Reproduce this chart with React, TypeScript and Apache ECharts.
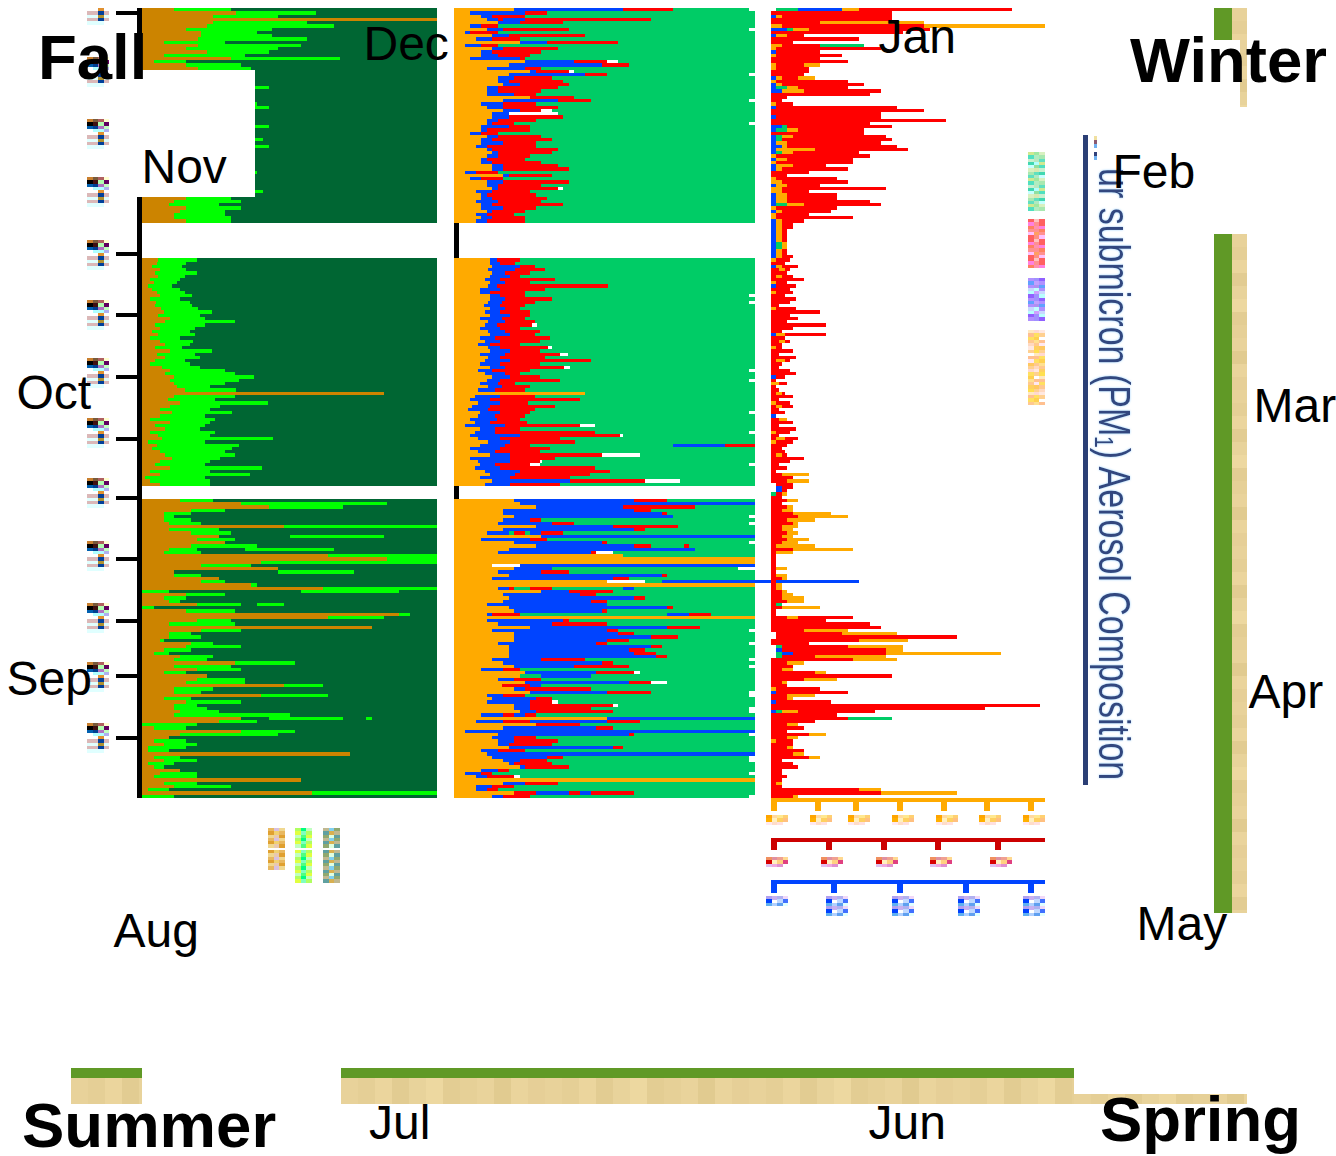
import React, { useEffect, useRef } from "react";
import * as echarts from "echarts";

const BROWN = "#cc8400", LIME = "#00ff00", DARK = "#006633";
const ORANGE = "#ffaa00", BLUE = "#0044ff", RED = "#ff0000", GREEN = "#00cc66", WHITE = "#ffffff";

const leftSec1 = [[11,30],[32,59],[24,46],[100],[24,56],[22,65],[15,44],[20,39],[20,44],[19,56],[7.5,28],[19,54],[15,46],[22,43],[7.5,35],[30,67],[4,15],[15,33.5],[19,37],
[15,35],[16,36],[14,33],[15,37],[16,30],[15,43],[17,34],[12,36],[15,31],[16,33],[17,39],[14,43],[15,30],[13,35],[15,37],[16,28],[14,33],[15,43],[13,31],[15,34],[16,36],[14,41],[15,30],[16,43],[14,33],[15,36],[13,29],[16,34],[15,31],[14,35],[16,37],[15,39],[13,30],[16,34],[14,36],[15,31],[15,29],[13,41],[15,33],
[15,30],[11,33.5],[9,26],[15,33.5],[13,28],[11,28],[11,30],[15,30]];
const leftSec2 = [[5.4,18.6],[5,15],[3.4,13.6],[6,15],[4.4,18.6],[5.4,14.6],[2.7,13],[4,12],[2,10],[3.4,13],[5,14.6],[6,17],[2.7,13],[4.7,16.3],[4.4,17],[6.4,19],[7.5,23.7],[5.4,19.7],[9.5,21.4],[7.8,31.5],[4.4,21.4],[6,18],[3.4,16.3],[5.4,18],[2.7,13],[6,17.3],[7.8,16.3],[4.4,13.6],[9.5,23.7],[5,18],[7.8,19.7],[4.4,14.6],[2.7,16.3],[6.8,19.7],[9.5,28],[7.8,31.5],[11,38],[9.5,33],[11,28],[12,23],[14.6,32],[82],[11,31.5],[8.8,24.7],[13,42.7],[9.5,26.4],[6,23],[10,30.5],[6,21.4],[2.7,24.7],[9.5,23],[4.4,21.4],[7.8,19.7],[2.7,24.7],[5.4,23],[6.8,44.4],[2,21.4],[5,33],[3.4,30.5],[6,28],[7.8,31.5],[10,26.4],[6,23],[4.4,21.4],[9.5,40.7],[2.7,23],[6,36.6],[1,21.4],[2.7,23],[6,23]];
const leftSec3 = [[13,24],[33.5,83],[43,68],[16.5,28],[7.5,16.5],[7.5,11],[7.5,16.5],[9,20],[48,100],[9,26],[16.5,30],[26,26,50,82],[18.5,31.5],[28],[16.5,39],[9,18.5,35,65],[7.5,20],[63,100],[83,100],[40.5,100],[20,37],[46],[11,11,46,72],[11,20],[26],[20,28],[37,39],[61.5,100],[0,9,54,87],[15,28],[7.5,15],[9,13],[18.5,33.5,39,48],[0,4],[15,31.5],[87,91],[63,82],[18.5,30],[9,31.5],[78],[20,33.5],[9,16.5],[9,20],[6,7.5],[16.5,24],[15,33.5],[7.5,16.5],[4,9],[13,24],[11,22],[31.5,52],[11,30],[18.5,33.5],[7.5,15],[22],[18.5,35],[15,35],[48,61.5],[11,24],[11,20],[40.5,63],[7.5,16.5],[15,33.5],[11,18.5],[11,22],[13,26],[11,50],[33.5,33.5,43,68,76,78],[26,39],[0,18.5],[4,15],[33.5,52],[13,46],[9],[4,15],[7.5,18.5],[2,15],[2,9],[70.5],[4,13],[7.5,18.5],[2,11],[4,7.5],[13],[6,18.5],[4,18.5],[54],[7.5,18.5],[11,30],[2,9],[57.5,100],[0,11]];

const midSec1 = [[20,56.1,72.8],[5.3,23.6,30.9],[9,12.6,23.6],[11,14.6,16.3,16.3,16.3,23.6,65.5],[14.6,22,36.2],[5.3,9,14.6],[11,16.3,38.2],[3.7,5.3,14.6],[12.6,18.3,43.5],[7.3,12.6,22],[22,30.9,54.5],[3.7,9,14.6],[12.6,16.3,34.6],[9,12.6,28.9],[9,14.6,25.2],[5.3,22,23.6],[23.6,39.9,50.8,54.5],[18.3,49.2,58.1],[11,23.6,28.9],[25.2,27.2,38.2,39.9],[18.3,43.5,50.8],[14.6,20,32.6],[14.6,18.3,36.2],[16.3,22,38.2],[11,14.6,34.6],[11,14.6,28.9],[11,20,27.2],[25.2,25.2,39.9],[16.3,34.6,45.5],[9,16.3,27.2],[11,16.3,34.6],[16.3,22,28.9,32.6],[12.6,18.3,18.3,34.6],[12.6,18.3,36.2],[11,14.6,27.2],[11,12.6,20],[9,18.3,25.2],[9,11,25.2],[5.3,9,14.6],[11,14.6,28.9],[9,12.6,32.6],[9,16.3,27.2],[7.3,11,27.2],[11,12.6,34.6],[12.6,14.6,32.6],[11,14.6,25.2],[9,11,23.6],[9,12.6,28.9],[12.6,16.3,34.6],[12.6,16.3,38.2],[3.7,7.3,14.6],[16.3,18.3,32.6],[5.3,9,16.3],[11,16.3,38.2],[11,14.6,28.9],[12.6,14.6,34.6,36.2],[7.3,12.6,25.2],[9,11,27.2],[9,12.6,30.9],[7.3,14.6,28.9],[9,12.6,36.2],[9,16.3,27.2],[11,12.6,23.6],[7.3,11,20],[9,12.6,23.6],[7.3,11,23.6]];
const midSec2 = [[12,14.3,22],[12,15.3,20.3],[12.6,22,27],[11.3,20.3,30.2],[12.6,17,25.2],[12,18.6,22],[10.3,15.3,33.6],[12,17,25.2],[11.3,14.3,51.2],[8.6,15.3,30.2],[8.6,12,23.6],[12,15.3,23.6],[12,17,32.6],[11.3,16,27],[10,15.3,23.6],[12,17,22],[10.3,15.3,25.2],[12,18.6,25.2],[8.6,16,23.6],[11.3,17,27],[10.3,14.3,26,27.6],[8.6,15.3,22],[11.3,17,28.6],[12,18.6,27],[8.6,13.6,32],[10.3,15.3,28.6],[8,12,22],[11.3,15.3,31.2,32.6],[12,18.6,28.6],[8.6,17,35.2,37.9],[11.3,15.3,30.2],[10.3,18.6,45.5],[8.6,15.3,28.6],[12,17,36.5,38.5],[8,12.6,25.2],[10.3,17,22],[12.6,18.6,28.6],[11,15.3,35.2],[8.6,14.6,20.3],[11.3,16,25.2],[8,13.6,23.6],[43.5],[7,15.3,27],[5.3,12,41.9],[8,15.3,24.6],[6,12,33.6],[4.7,11.3,27],[8.6,15.3,25.2],[8,13.6,23.6],[5.3,14.3,22],[7,12,24.3],[3.7,17,41.9,46.8],[8.6,13.6,22],[7,13.6,46.8],[5.3,22,55,56],[8,15.3,35.2],[11.3,18.6,40.2],[8.6,17,25.2,25.2,72.8,90,100],[5.3,15.3,32],[8,13.6,28.6],[12,18.6,49.2,61.8],[5.3,18.6,33.6],[8,18.6,28.6,29.2],[8.6,13.6,25.2,28.6],[7,15.3,46.8],[10.3,22,51.8],[12,20.3,45.2],[8.6,18.6,38.5],[12.6,38.5,63.5,75],[10.3,18.6,35.2]];
const midSec3 = [[20,59.8,70.8],[22,100],[27.2,56.1,80],[16.3,59.8,65.5],[16.3,69.1,70.8],[20,72.8],[16.3,25.2,28.9],[14.6,32.6,39.9],[27.2,52.8,74.4],[16.3,59.8,63.5],[11,18.3,18.3,18.3,20,20,23.6,23.6,25.2,28.9,36.2],[28.9,100],[9,25.2,30.9],[20,49.2,50.8],[27.2,59.8,65.5,65.5,76.4,76.4,78],[18.3,80],[14.6,45.5,47.2,52.8],[56.1],[100],[100],[12.6,12.6,12.6,22,22,100],[20,32.6],[14.6,28.9,38.2],[18.3,69.1,70.8],[12.6,52.8,58.1],[50.8,50.8,50.8,63.5,69.1,134.5],[100],[14.6,18.3,20,20,25.2,25.2,32.6,32.6,56.1,59.8],[28.9,38.2,52.8],[16.3,41.9,47.2],[18.3,59.8,63.5],[16.3,45.5,50.8],[11,50.8],[18.3,70.8,72.8],[20,49.2,50.8],[11,12.6,22,22,70.8,78,85.4],[100],[11,36.2,38.2],[14.6,32.6,50.8],[25.2,70.8,81.7],[12.6,50.8,54.5],[20,54.5,59.8],[20,65.5,74.4],[20,50.8,58.1],[14.6,47.2,50.8],[18.3,65.5,69.1],[18.3,58.1,63.5],[18.3,59.8,67.1],[18.3,67.1,70.8],[12.6,28.9,43.5],[16.3,49.2,52.8],[20,39.9,58.1],[9,16.3,22],[23.6,47.2,59.8,61.8],[22,22,22,22,28.9,45.5],[14.6,20,28.9],[23.6,58.1,65.5,70.8],[16,16,25.2,25.2,25.2,28.9],[20,23.6,45.5],[25.2,50.8,65.5],[11,16.3,23.6],[12.6,27.2,32.6],[11,25.2,32.6,34.6],[20,25.2,52.8,54.5],[20,25.2,45.5],[22,27.2,52.8],[9,16.3,20,20,20,23.6,27.2],[50.8,100],[7.3,16.3,25.2,25.2,25.2,50.8,61.8],[27.2,27.2,41.9],[16.3,47.2,52.8],[3.7,100],[14.6,58.1,59.8],[12.6,20,27.2],[14.6,20,34.6],[14.6,18.3,32.6],[18.3,52.8,56.1],[9,14.6,23.6],[11,100],[12.6,30.9,36.2],[16.3,22,30.9],[18.3,20,32.6],[22,23.6,38.2],[9,14.6,18.3],[3.7,9,12.6],[7.3,11,20,22],[100],[16.3,23.6,34.6],[7.3,12.6,20],[7.3,11,14.6],[20,20,27.2,27.2,27.2,38.2,41.9,41.9,41.9,45.5,59.8],[12.6,16.3,25.2]];
const midTipRows = [0,6,20,28,35,88,90,111,114,124,130,140,156,158,164,191,195,200,202,210,211,215,216,223,230,231,235,242];
const midShortRows = [172];

const rightSec1 = [[26,32,88],[44],[2,4,44],[44],[18,56],[0,4,56,100],[8,14,58],[48],[2,6,12],[32],[8],[0,4,18,18,18,34],[0,2,40],[18],[0,2,26],[18],[28],[0,2,12,18],[0,2,14],[14],[12],[2,4,10,16],[0,2,28],[2,4,34],[6,10,28],[4,12,40],[36],[6],[4],[0,2,8],[46],[56],[40],[40],[64],[36],[44],[6,10,34],[34],[4,8,42],[44],[2,6,40],[4,6,46],[2,16,50],[4,8,32],[0,2,36],[2,6,30],[0,2,30],[2,8,20],[2,4,28],[14],[6],[0,2,24],[0,4,28],[2,6,18],[0,4,42],[0,4,14],[2,6,24],[2,6,24],[2,6,36],[6,12,40],[0,2,24],[2,4,22],[0,2,14],[0,2,30],[2,4,12]];
const rightGap1 = [[2,4,8],[2,4,8],[2,4,6],[2,4,6],[2,4,6],[2,4,6],[4,6],[4,6],[2,4,6],[2,4,6],[2,4,8]];
const rightSec2 = [[0,2,7],[5],[0,2,8],[3,5,7],[6],[2,4,8],[12],[0,2,6],[9],[7],[0,2,8],[5],[9],[7],[3],[0,2,9],[18],[7],[10],[6],[20],[8],[4],[0,3,18],[5],[3,5,7],[4],[0,2,4],[8],[3],[9],[2,5,7],[4],[3],[7],[9],[5],[2],[0,3,6],[2],[3],[2,4,5],[8],[3],[0,2,7],[2,4,8],[3],[5],[2],[3,6],[8],[3],[9],[0,2,7],[3],[2,5,10],[0,2,8],[6],[4],[5],[2,4,6],[12],[7],[3],[6],[2],[4,14],[8]];
const rightGap2 = [[6,14],[8],[8],[6],[4,6],[4]];
const rightSec3 = [[6,10],[4],[6,8],[4,8],[8,22],[10,28],[6,16],[8,10],[4,10],[4,8],[6,10],[4,8],[6,14],[4,10],[2,16],[8,30],[2,8],[2],[2],[2],[2],[2,6],[2],[2,6],[4,6],[2],[2,4],[2,4],[4,6],[4,8],[4,12],[6,12],[2,2,2,2,2,4],[4,18],[2],[2],[6,10,30],[20],[36],[40],[12,28],[26,46],[68],[32,50],[14],[28,48],[42,48],[42,84],[16,42],[30,46],[6,12],[8],[4,8],[16,20],[44],[12,24],[4,6],[6],[0,2,18],[28],[6,16],[6,8],[22],[98],[78],[4,10,38],[24],[28,28,28,28,28,44],[16],[6,10],[12],[6],[14,20],[6,10],[0,2,8],[8],[6,8],[12],[8,12],[14,18],[4],[8],[10],[4],[4],[6],[4],[2,4],[4],[32,40],[40,68],[8,10]];
const rightLead: Record<number, number[]> = {
  0:[2,10,26,26],2:[0,0,2,2],6:[0,0,6,8],8:[0,0,2,2],13:[0,0,2,2],21:[0,0,2,2],23:[0,0,2,2],24:[0,0,2,6],25:[0,0,4,4],30:[0,0,2,2],33:[0,0,2,2],36:[0,0,4,6],37:[0,0,2,6],39:[0,0,2,4],40:[0,0,2,4],41:[0,0,2,2],42:[0,0,4,4],43:[0,0,2,2],44:[0,0,2,4],46:[0,0,2,2],48:[0,0,2,2],49:[0,0,2,2],54:[0,0,2,2],57:[0,0,2,2],58:[0,0,2,2],59:[0,0,2,2],60:[0,0,2,6],62:[0,0,2,2],65:[0,0,2,2],
  66:[0,0,2,2],67:[0,0,2,2],68:[0,0,2,2],69:[0,0,2,2],70:[0,0,2,2],71:[0,0,2,2],72:[0,0,2,4],73:[0,0,2,4],74:[0,0,2,2],75:[0,0,2,2],76:[0,0,2,2],
  79:[0,0,2,2],85:[0,0,2,2],100:[0,0,2,2],113:[0,0,2,2],125:[0,0,2,2],
  146:[2,2,2,2],147:[2,2,4,4],148:[2,2,4,4],149:[0,2,2,2],
  192:[2,2,2,2],193:[2,2,2,2],196:[2,4,4,4],197:[2,2,4,4],198:[2,4,8,8],199:[2,4,4,4],210:[0,0,2,2],213:[0,0,2,2],216:[0,0,2,4],
};

const tickRows = [1, 75, 94, 113, 132, 150, 169, 188, 205, 224];
const gapA = Array.from({ length: 11 }, () => [] as number[]);
const gapB = Array.from({ length: 4 }, () => [] as number[]);
const ROWS = 243;
const rowNames = Array.from({ length: ROWS }, (_, i) => String(i));

function cycleSeries(rows: number[][], colors: string[], restColor: string, grid: number, endOf: (i: number) => number) {
  const out: any[] = [];
  colors.concat(restColor).forEach((color, k) => {
    const data = rows.map((c, r) => {
      if (!c.length) return null;
      if (k === colors.length) {
        const last = c[c.length - 1];
        const v = endOf(r) - last;
        return v > 0 ? v : null;
      }
      if (k >= c.length) return null;
      const v = c[k] - (k ? c[k - 1] : 0);
      return v > 0 ? v : null;
    });
    out.push({ type: "bar", stack: "p" + grid, xAxisIndex: grid, yAxisIndex: grid, barWidth: "100%", clip: false, silent: true, itemStyle: { color }, data, z: 2 + grid });
  });
  return out;
}

function rightSeries(rows: number[][]) {
  const leadColors = [WHITE, GREEN, BLUE, GREEN];
  const mainColors = [RED, ORANGE, RED, ORANGE, RED, GREEN];
  const out: any[] = [];
  leadColors.forEach((color, k) => {
    const data = rows.map((_, r) => {
      const L = rightLead[r];
      if (!L) return null;
      const v = L[k] - (k ? L[k - 1] : 0);
      return v > 0 ? v : null;
    });
    out.push({ type: "bar", stack: "p2", xAxisIndex: 2, yAxisIndex: 2, barWidth: "100%", clip: false, silent: true, itemStyle: { color }, data, z: 5 });
  });
  mainColors.forEach((color, k) => {
    const data = rows.map((c, r) => {
      if (k >= c.length) return null;
      const start = k ? c[k - 1] : rightLead[r] ? rightLead[r][3] : 0;
      const v = c[k] - start;
      return v > 0 ? v : null;
    });
    out.push({ type: "bar", stack: "p2", xAxisIndex: 2, yAxisIndex: 2, barWidth: "100%", clip: false, silent: true, itemStyle: { color }, data, z: 5 });
  });
  return out;
}

const axisLabelA = [["#c97f2e","#7a5a3a","#b06060","#ffffd0"],["#000000","#401010","#b0ffb0","#600060"],["#0060b0","#003f90","#b070c0","#c0ffc0"],["#ffffff","#b0ffff","#b0ffff","#b0b0f0"]];
const axisLabelB = [["#ffffff","#ffffff","#e09030","#ffffff"],["#dbb8b8","#dbb8b8","#00409a","#dbb8b8"],["#e0ffff","#e0ffff","#b09030","#e0ffff"],["#dbb8b8","#dbb8b8","#00409a","#dbb8b8"],["#e0ffff","#e0ffff","#e0ffff","#ffffff"]];
const axisLabelTops = [57, 119, 177, 240, 300, 358, 418, 478, 541, 603, 662, 723];
const orangeTick = [["#ffa500","#ffd9a0","#ffe890","#ffd070"],["#ffb000","#fff0c0","#ffd060","#ffc080"],["#ffe8f0","#ffdcc8","#ffe0e0","#ffffff"]];
const redTick = [["#f09060","#e090a0","#f0a090","#ffd890"],["#d80000","#fff0c0","#ffd080","#e04080"],["#e0c0f0","#f0a8e0","#e090d0","#ffffff"]];
const blueTick = [["#b0a0f0","#c8b0f0","#b0b0f0","#f0d8f8"],["#0040ff","#ffffff","#c0d8ff","#4070ff"],["#60b0f0","#b0d0ff","#60a0f0","#e0ffff"]];
const titleBits = [["#f0e0a0"],["#8a5a70"],["#6fb0f0"],["#ffffff"],["#30407a"],["#6fb0f0"]];
const tealTones = ["#d0e890","#60e0c0","#50e0c0","#b0e8c0","#c8f0d0","#a0e8a0","#40d8b0","#b0ecc0","#c8ffff","#b8e8c0","#d8f0c0","#b0ffff","#a8e8b0","#90e0a0","#60e0c0","#d8e8b0"];
const redTones = ["#ff6060","#ffa060","#ff80e0","#ff9080","#ff8060","#ffc0c0","#ff9090","#ff9090","#ffc0ff","#ff90b0","#ff6060","#ff9090"];
const violetTones = ["#b090ff","#d0a0ff","#60a0ff","#a090ff","#b090ff","#a090ff","#c8d8ff","#c0a0ff","#b8ffff","#b090f0","#9060ff","#c0ffff"];
const paleOrange = ["#ffe8c0","#ffc860","#ffc090","#ffd090","#ffe060","#ffd8d0","#ffc890","#ffe060","#ffd8c0","#ffd050","#ffe8e0","#ffe090","#ffd090","#ffc890","#ffffff","#ffd060","#ffc090","#ffe050","#ffe8f0"];
const tanTones = ["#e8d29a","#e5cf96","#ebd59d","#e2cc92","#e8d39b","#edd8a0","#e3cd93","#e6d097","#e9d39b","#e1cb90","#ead49c","#e6cf97"];
const orangeKey = ["#e8b860","#f0d070","#e0a030","#e8c8b0","#f0d890","#d8c0e0"];
const limeKey = ["#b0ff60","#80ffc0","#e0ff40","#50ff80","#c0ffc0","#00ff80"];
const greyKey = ["#c0b890","#d8b050","#60a0a0","#e0ffe0","#90a870","#80d0f0"];

function mosaic(x: number, y: number, cw: number, ch: number, rows: string[][]) {
  const out: any[] = [];
  rows.forEach((row, j) => row.forEach((c, i) => {
    if (c !== "#ffffff") out.push({ type: "rect", z: 90, silent: true, shape: { x: x + i * cw, y: y + j * ch, width: cw + 0.3, height: ch + 0.3 }, style: { fill: c } });
  }));
  return out;
}
function toneColumn(x: number, y: number, w: number, tones: string[], n: number, ch: number, shift = 0) {
  const rows: string[][] = [];
  for (let j = 0; j < n; j++) rows.push([0, 1, 2].map((i) => tones[(j * 2 + i * 5 + shift) % tones.length]));
  return mosaic(x, y, w, ch, rows);
}
function tanV(x: number, y: number, w: number, h: number) {
  const out: any[] = [];
  for (let p = 0, k = 0; p < h; p += 13, k++) out.push({ type: "rect", z: 90, silent: true, shape: { x, y: y + p, width: w, height: Math.min(13.5, h - p) }, style: { fill: tanTones[k % tanTones.length] } });
  return out;
}
function tanH(x: number, y: number, w: number, h: number) {
  const out: any[] = [];
  for (let p = 0, k = 0; p < w; p += 17, k++) out.push({ type: "rect", z: 90, silent: true, shape: { x: x + p, y, width: Math.min(17.5, w - p), height: h }, style: { fill: tanTones[k % tanTones.length] } });
  return out;
}
const box = (x: number, y: number, width: number, height: number, fill: string, z = 90) => ({ type: "rect", z, silent: true, shape: { x, y, width, height }, style: { fill } });
const label = (text: string, x: number, base: number, size: number, bold = false) => ({
  type: "text", z: 100, silent: true, x, y: base - size * 0.35,
  style: { text, fill: "#000", font: `${bold ? "bold " : ""}${size}px "Liberation Sans"`, textAlign: "left", textVerticalAlign: "middle" },
});

const monthLabels: [string, number, number][] = [["Dec",363.5,60],["Jan",878.5,53],["Nov",141.5,183],["Feb",1112.5,188],["Oct",16.5,409],["Mar",1253.5,422],["Sep",6.5,695],["Apr",1248.5,708],["Aug",113.5,947],["May",1136.5,940],["Jul",369,1139],["Jun",868.5,1139]];
const seasonLabels: [string, number, number][] = [["Fall",38,79],["Winter",1130,82],["Summer",22,1147],["Spring",1100,1141]];
const orangeTicks = [771, 815, 853, 897, 941, 984, 1028];
const redTicks = [771, 826, 881, 935, 995];
const blueTicks = [771, 831, 897, 963, 1028];

function buildGraphic() {
  const g: any[] = [];
  g.push(box(100, 70, 155, 127, "#ffffff", 60));
  axisLabelTops.forEach((t) => { g.push(...mosaic(87, t, 5.5, 3.25, axisLabelA)); g.push(...mosaic(87, t + 13, 5.5, 3.25, axisLabelB)); });
  g.push(...mosaic(87, 8, 5.5, 3.25, axisLabelB));
  g.push(box(771, 798, 274, 4, ORANGE), box(771, 838, 274, 4, "#cc0000"), box(771, 880, 274, 3.5, BLUE));
  orangeTicks.forEach((x) => { g.push(box(x, 801, 5.5, 10, ORANGE)); g.push(...mosaic(x - 5, 815, 5.5, 3.25, orangeTick)); });
  redTicks.forEach((x) => { g.push(box(x, 841, 5.5, 9, "#cc0000")); g.push(...mosaic(x - 5, 857, 5.5, 3.25, redTick)); });
  blueTicks.forEach((x, i) => { g.push(box(x, 883, 5.5, 10, BLUE)); g.push(...mosaic(x - 5, 896, 5.5, 3.25, blueTick)); if (i) g.push(...mosaic(x - 5, 906, 5.5, 3.25, blueTick)); });
  g.push(...toneColumn(1028, 152, 5.5, tealTones, 18, 3.25));
  g.push(...toneColumn(1028, 219, 5.5, redTones, 15, 3.25));
  g.push(...toneColumn(1028, 278, 5.5, violetTones, 13, 3.25));
  g.push(...toneColumn(1028, 330, 5.5, paleOrange, 23, 3.25));
  g.push(...toneColumn(268, 828, 5.5, orangeKey, 6, 3.25), ...toneColumn(268, 850, 5.5, orangeKey, 6, 3.25, 2));
  g.push(...toneColumn(295, 828, 5.5, limeKey, 6, 3.25), ...toneColumn(295, 850, 5.5, limeKey, 10, 3.25, 2));
  g.push(...toneColumn(323, 828, 5.5, greyKey, 6, 3.25), ...toneColumn(323, 850, 5.5, greyKey, 10, 3.25, 2));
  g.push(box(1083, 135, 4.5, 650, "#2b3f75"));
  g.push(...mosaic(1094, 136, 3, 4, titleBits));
  g.push({ type: "text", z: 95, silent: true, x: 1092, y: 168, rotation: -Math.PI / 2, scaleX: 0.68, scaleY: 0.9, style: { text: "ur submicron (PM₁) Aerosol Composition", fill: "#33477f", font: '50px "Liberation Sans"', textAlign: "left", textVerticalAlign: "bottom", textShadowColor: "#9ed2ff", textShadowBlur: 2 } });
  g.push(box(1214, 8, 18, 32, "#609926"), ...tanV(1232, 8, 15, 32), ...tanV(1240, 40, 7, 67));
  g.push(box(1214, 234, 18, 679, "#609926"), ...tanV(1232, 234, 15, 679));
  g.push(box(71, 1068, 71, 10, "#609926"), ...tanH(71, 1078, 71, 26));
  g.push(box(341, 1068, 733, 10, "#609926"), ...tanH(341, 1078, 733, 26));
  g.push(...tanH(1074, 1094, 173, 10));
  monthLabels.forEach(([t, x, b]) => g.push(label(t, x, b, 48)));
  seasonLabels.forEach(([t, x, b]) => g.push(label(t, x, b, 63.5, true)));
  return g;
}

export default function App() {
  const ref = useRef<HTMLDivElement>(null);
  useEffect(() => {
    const chart = echarts.init(ref.current!, undefined, { renderer: "svg" });
    const left = [...leftSec1, ...gapA, ...leftSec2, ...gapB, ...leftSec3];
    const mid = [...midSec1, ...gapA, ...midSec2, ...gapB, ...midSec3];
    const right = [...rightSec1, ...rightGap1, ...rightSec2, ...rightGap2, ...rightSec3];
    const grid = [{ left: 142, width: 295 }, { left: 454, width: 301 }, { left: 771, width: 274 }].map((g) => ({ ...g, top: 8, height: 790 }));
    const xAxis = grid.map((_, i) => ({ type: "value", gridIndex: i, min: 0, max: 100, show: false }));
    const yBase = { type: "category", data: rowNames, inverse: true, axisLabel: { show: false }, splitLine: { show: false } };
    const yAxis: any[] = [
      { ...yBase, gridIndex: 0, offset: 2.5, axisLine: { show: true, onZero: false, lineStyle: { color: "#000", width: 5, cap: "butt" } }, axisTick: { show: true, alignWithLabel: true, length: 24, interval: (i: number) => tickRows.includes(i), lineStyle: { color: "#000", width: 4 } } },
      { ...yBase, gridIndex: 1, offset: -2.5, axisLine: { show: true, onZero: false, lineStyle: { color: "#000", width: 5, cap: "butt" } }, axisTick: { show: false } },
      { ...yBase, gridIndex: 2, axisLine: { show: false }, axisTick: { show: false } },
    ];
    const series = [
      ...cycleSeries(left, [BROWN, LIME, DARK, LIME, DARK, LIME], DARK, 0, () => 100),
      ...cycleSeries(mid, [ORANGE, BLUE, RED, WHITE, GREEN, BLUE, RED, WHITE, GREEN, BLUE, RED], GREEN, 1, (r) => midShortRows.includes(r) ? 94.4 : midTipRows.includes(r) ? 98 : 100),
      ...rightSeries(right),
    ];
    chart.setOption({ animation: false, backgroundColor: "#ffffff", grid, xAxis, yAxis, series, graphic: { elements: buildGraphic() } });
    return () => chart.dispose();
  }, []);
  return (
    <>
      <style>{`html,body{margin:0;padding:0;background:#fff}.c svg path{shape-rendering:crispEdges}`}</style>
      <div className="c" ref={ref} style={{ position: "absolute", left: 0, top: 0, width: 1336, height: 1156, overflow: "hidden" }} />
    </>
  );
}
